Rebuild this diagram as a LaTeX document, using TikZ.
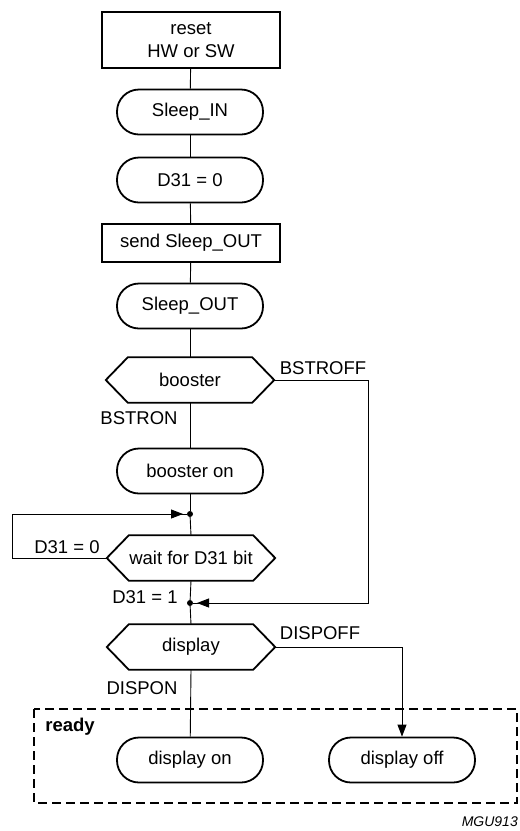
\documentclass[tikz,border=0pt]{standalone}
\usepackage{fontspec}
\setmainfont{Liberation Sans}
\usetikzlibrary{arrows.meta}
\begin{document}
\begin{tikzpicture}[x=1pt,y=-1pt,
  every node/.style={font=\fontsize{18.5}{23}\selectfont, inner sep=0pt},
  box/.style={draw, line width=1.8pt, minimum width=178pt, align=center},
  stadium/.style={draw, line width=1.8pt, rounded corners=22pt, minimum width=146pt, minimum height=45pt},
  hex/.style={minimum width=168pt, minimum height=45pt},
  hexline/.style={line width=1.8pt, line join=miter},
  conn/.style={line width=0.9pt},
  tip/.style={-{Triangle[length=12pt,width=9pt]}},
  dot/.style={circle, fill, minimum size=6pt, inner sep=0pt},
  lbl/.style={font=\fontsize{18.5}{23}\selectfont},
  frame/.style={line width=1.6pt, dash pattern=on 9pt off 5pt}
]
\useasboundingbox (0,0) rectangle (520,831);
\node[box, minimum height=56pt] (reset) at (191,40) {reset\\HW or SW};
\node[stadium] (sleepin) at (190,112) {Sleep\_IN};
\node[stadium] (dzero) at (190,180) {D31 = 0};
\node[box, minimum height=38pt] (send) at (191,243) {send Sleep\_OUT};
\node[stadium] (sleepout) at (190,306) {Sleep\_OUT};
\node[hex] (booster) at (190,380) {booster};
\node[stadium] (boosteron) at (190,471) {booster on};
\node[dot] (jone) at (190,514) {};
\node[hex] (wait) at (191,558) {wait for D31 bit};
\node[dot] (jtwo) at (190,603) {};
\node[hex] (display) at (191,647) {display};
\node[stadium] (dispon) at (190,760) {display on};
\node[stadium] (dispoff) at (402,760) {display off};

\foreach \n in {booster,wait,display}
  \draw[hexline] (\n.west) -- ([xshift=22pt]\n.north west) -- ([xshift=-22pt]\n.north east)
     -- (\n.east) -- ([xshift=-22pt]\n.south east) -- ([xshift=22pt]\n.south west) -- cycle;

% main column
\draw[conn] (reset) -- (sleepin);
\draw[conn] (sleepin) -- (dzero);
\draw[conn] (dzero) -- (send);
\draw[conn] (send) -- (sleepout);
\draw[conn] (sleepout) -- (booster.north);
\draw[conn] (booster.south) -- (boosteron);
\draw[conn] (boosteron) -- (jone);
\draw[conn] (jone) -- (wait.north);
\draw[conn] (wait.south) -- (jtwo);
\draw[conn] (jtwo) -- (display.north);
\draw[conn] (display.south) -- (dispon);

% loop D31 = 0
\coordinate (lefta) at (12,558);
\draw[conn] (wait.west) -- (lefta) |- (jone);
\draw[conn, tip] (lefta |- jone) -- ([xshift=-7pt]jone.center);

% BSTROFF branch
\coordinate (righta) at (368,380);
\draw[conn] (booster.east) -- (righta) |- (jtwo);
\draw[conn, tip] (righta |- jtwo) -- ([xshift=7pt]jtwo.center);

% DISPOFF branch
\coordinate (rightb) at (402,647);
\draw[conn] (display.east) -- (rightb);
\draw[conn, tip] (rightb) -- (dispoff.north);

% labels
\node[lbl] (lboff) at (323,368) {BSTROFF};
\node[lbl] (lbon) at (139,418) {BSTRON};
\node[lbl] (ldz) at (67,547) {D31 = 0};
\node[lbl] (ldo) at (145,597) {D31 = 1};
\node[lbl] (ldoff) at (320,633) {DISPOFF};
\node[lbl] (ldon) at (142,688) {DISPON};

% ready frame
\draw[frame] (34,709) rectangle (517,803);
\node[font=\fontsize{18.5}{23}\selectfont\bfseries] (ready) at (70,727) {ready};
\node[font=\fontsize{14}{17}\selectfont\itshape, anchor=east] (mgu) at (518,822) {MGU913};
\end{tikzpicture}
\end{document}
